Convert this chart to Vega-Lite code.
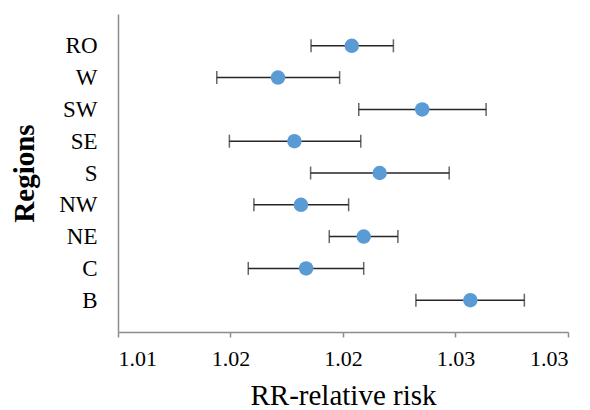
{
  "$schema": "https://vega.github.io/schema/vega-lite/v6.json",
  "width": 450,
  "height": 318,
  "autosize": "none",
  "padding": {"left": 118, "top": 14, "right": 22, "bottom": 78},
  "background": "white",
  "config": {"view": {"stroke": null}, "font": "Liberation Serif"},
  "data": {
    "values": [
      {"region": "RO", "rr": 1.02039, "lo": 1.01858, "hi": 1.02224},
      {"region": "W", "rr": 1.01711, "lo": 1.01439, "hi": 1.01985},
      {"region": "SW", "rr": 1.02352, "lo": 1.0207, "hi": 1.02636},
      {"region": "SE", "rr": 1.01784, "lo": 1.01495, "hi": 1.02079},
      {"region": "S", "rr": 1.02163, "lo": 1.01856, "hi": 1.02472},
      {"region": "NW", "rr": 1.01813, "lo": 1.01604, "hi": 1.02025},
      {"region": "NE", "rr": 1.02092, "lo": 1.01939, "hi": 1.02244},
      {"region": "C", "rr": 1.01836, "lo": 1.01579, "hi": 1.02092},
      {"region": "B", "rr": 1.02566, "lo": 1.02324, "hi": 1.02806}
    ]
  },
  "encoding": {
    "y": {
      "field": "region",
      "type": "nominal",
      "sort": ["RO", "W", "SW", "SE", "S", "NW", "NE", "C", "B"],
      "scale": {"type": "point", "padding": 1},
      "axis": {
        "title": "Regions",
        "titleFont": "Liberation Serif",
        "titleFontSize": 29,
        "titleFontWeight": "bold",
        "titleColor": "black",
        "titleBaseline": "alphabetic",
        "titleX": -85,
        "titleAngle": -90,
        "labelFont": "Liberation Serif",
        "labelFontSize": 23,
        "labelColor": "black",
        "labelPadding": 21,
        "ticks": false,
        "grid": false,
        "domainColor": "#8c8c8c",
        "domainWidth": 1.5
      }
    }
  },
  "layer": [
    {
      "mark": {"type": "rule", "color": "#262626", "strokeWidth": 1.5},
      "encoding": {
        "x": {
          "field": "lo",
          "type": "quantitative",
          "scale": {"domain": [1.01, 1.03], "nice": false, "zero": false},
          "axis": {
            "title": "RR-relative risk",
            "titleFont": "Liberation Serif",
            "titleFontSize": 29,
            "titleFontWeight": "normal",
            "titleColor": "black",
            "titleBaseline": "alphabetic",
            "titleY": 72,
            "values": [1.01, 1.015, 1.02, 1.025, 1.03],
            "labelExpr": "datum.value < 1.0125 ? '1.01' : (datum.value < 1.0225 ? '1.02' : '1.03')",
            "labelFont": "Liberation Serif",
            "labelFontSize": 22,
            "labelColor": "black",
            "labelPadding": 11,
            "tickSize": 5,
            "tickColor": "#8c8c8c",
            "tickWidth": 1.5,
            "grid": false,
            "domainColor": "#8c8c8c",
            "domainWidth": 1.5
          }
        },
        "x2": {"field": "hi"}
      }
    },
    {
      "mark": {"type": "tick", "color": "#262626", "thickness": 1.5, "size": 13, "orient": "vertical"},
      "encoding": {"x": {"field": "lo", "type": "quantitative"}}
    },
    {
      "mark": {"type": "tick", "color": "#262626", "thickness": 1.5, "size": 13, "orient": "vertical"},
      "encoding": {"x": {"field": "hi", "type": "quantitative"}}
    },
    {
      "mark": {"type": "circle", "color": "#5B9BD5", "opacity": 1, "size": 210},
      "encoding": {"x": {"field": "rr", "type": "quantitative"}}
    }
  ]
}
